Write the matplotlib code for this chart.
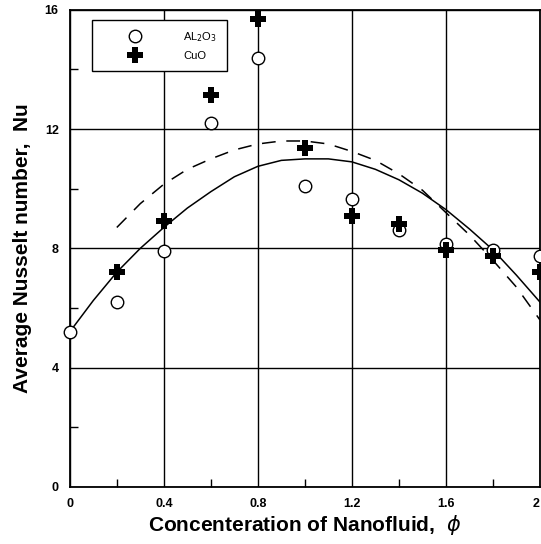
import matplotlib.pyplot as plt

plt.rcParams['font.family'] = ['Liberation Sans', 'DejaVu Sans']

# measured points
phi_pts = [0.0, 0.2, 0.4, 0.6, 0.8, 1.0, 1.2, 1.4, 1.6, 1.8, 2.0]
nu_al2o3 = [5.2, 6.2, 7.9, 12.2, 14.4, 10.1, 9.65, 8.6, 8.15, 7.95, 7.75]
phi_cuo = [0.2, 0.4, 0.6, 0.8, 1.0, 1.2, 1.4, 1.6, 1.8, 2.0]
nu_cuo = [7.2, 8.9, 13.15, 15.7, 11.35, 9.1, 8.8, 7.95, 7.75, 7.2]

# correlation curves
phi_solid = [0.0, 0.1, 0.2, 0.3, 0.4, 0.5, 0.6, 0.7, 0.8, 0.9, 1.0,
             1.1, 1.2, 1.3, 1.4, 1.5, 1.6, 1.7, 1.8, 1.9, 2.0]
nu_solid = [5.2, 6.25, 7.2, 8.0, 8.7, 9.35, 9.9, 10.4, 10.75, 10.95, 11.0,
            11.0, 10.9, 10.65, 10.3, 9.85, 9.3, 8.65, 7.95, 7.1, 6.2]
phi_dash = [0.2, 0.3, 0.4, 0.5, 0.6, 0.7, 0.8, 0.9, 1.0, 1.1, 1.2,
            1.3, 1.4, 1.5, 1.6, 1.7, 1.8, 1.9, 2.0]
nu_dash = [8.7, 9.5, 10.15, 10.65, 11.0, 11.3, 11.5, 11.6, 11.6, 11.5, 11.25,
           10.95, 10.5, 9.95, 9.2, 8.45, 7.6, 6.7, 5.6]

fig = plt.figure(figsize=(5.41, 5.44), dpi=100)
ax = fig.add_axes([0.129, 0.105, 0.869, 0.877])

ax.plot(phi_solid, nu_solid, color='black', lw=1.1)
ax.plot(phi_dash, nu_dash, color='black', lw=1.1, dashes=(9, 7))
ax.plot(phi_pts, nu_al2o3, 'o', mfc='white', mec='black', mew=1.0, ms=9,
        label='AL$_2$O$_3$', clip_on=False, zorder=3)
ax.plot(phi_cuo, nu_cuo, 'P', color='black', ms=11, mew=0,
        label='CuO', clip_on=False, zorder=4)

ax.set_xlim(0, 2)
ax.set_ylim(0, 16)
ax.set_xticks([0, 0.4, 0.8, 1.2, 1.6, 2.0])
ax.set_xticklabels(['0', '0.4', '0.8', '1.2', '1.6', '2'])
ax.set_yticks([0, 4, 8, 12, 16])
ax.set_xticks([0.2, 0.6, 1.0, 1.4, 1.8], minor=True)
ax.set_yticks([2, 6, 10, 14], minor=True)
ax.tick_params(which='major', length=0, labelsize=9, pad=8)
ax.tick_params(which='minor', direction='in', length=6, width=1.0)
for lab in ax.get_xticklabels() + ax.get_yticklabels():
    lab.set_fontweight('bold')
ax.get_xticklabels()[-1].set_horizontalalignment('right')
ax.grid(True, which='major', color='black', lw=1.0)
for s in ax.spines.values():
    s.set_linewidth(1.3)

ax.set_xlabel('Concenteration of Nanofluid,  $\\phi$', fontsize=15,
              fontweight='bold', labelpad=2)
ax.set_ylabel('Average Nusselt number,  Nu', fontsize=15,
              fontweight='bold', labelpad=9)

leg = ax.legend(loc='upper left', bbox_to_anchor=(0.035, 0.99), fontsize=8,
                handlelength=6.0, handletextpad=1.3, borderpad=0.9,
                labelspacing=0.6, fancybox=False, framealpha=1,
                edgecolor='black')
leg.get_frame().set_linewidth(1.0)

fig.savefig('out.png', dpi=100)
